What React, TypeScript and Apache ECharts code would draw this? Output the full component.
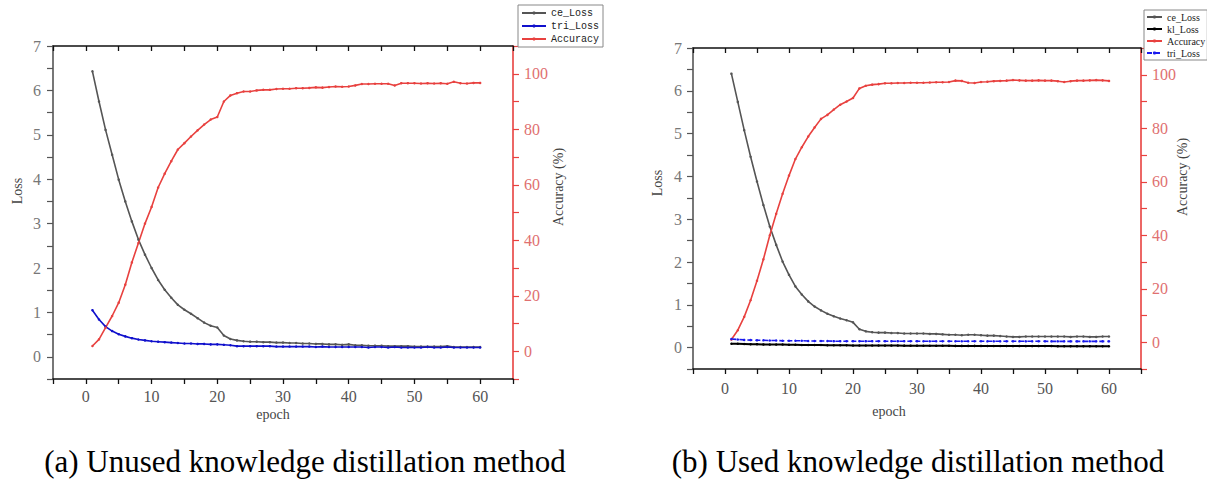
import React, { useEffect, useRef } from "react";
import * as echarts from "echarts";

const epochs = Array.from({ length: 60 }, (_, i) => i + 1);

// Panel (a): without knowledge distillation
const aCeLoss = [
  6.43, 5.75, 5.11, 4.55, 3.99, 3.5, 3.05, 2.64, 2.3, 2.0,
  1.73, 1.51, 1.33, 1.17, 1.06, 0.97, 0.87, 0.77, 0.7, 0.66,
  0.48, 0.4, 0.37, 0.35, 0.34, 0.34, 0.33, 0.33, 0.32, 0.32,
  0.31, 0.31, 0.3, 0.3, 0.29, 0.29, 0.28, 0.28, 0.27, 0.28,
  0.26, 0.26, 0.25, 0.25, 0.25, 0.24, 0.24, 0.24, 0.24, 0.23,
  0.23, 0.23, 0.23, 0.23, 0.24, 0.22, 0.22, 0.22, 0.22, 0.22,
];
const aTriLoss = [
  1.05, 0.84, 0.68, 0.58, 0.51, 0.46, 0.42, 0.39, 0.37, 0.35,
  0.34, 0.33, 0.32, 0.31, 0.3, 0.3, 0.29, 0.29, 0.28, 0.28,
  0.27, 0.26, 0.24, 0.24, 0.24, 0.24, 0.24, 0.24, 0.23, 0.23,
  0.23, 0.23, 0.23, 0.23, 0.22, 0.23, 0.22, 0.22, 0.22, 0.22,
  0.22, 0.22, 0.21, 0.22, 0.22, 0.21, 0.22, 0.21, 0.21, 0.21,
  0.21, 0.22, 0.21, 0.21, 0.22, 0.21, 0.21, 0.21, 0.21, 0.21,
];
const aAccuracy = [
  1.9, 4.3, 8.5, 12.7, 17.5, 24.0, 32.0, 39.0, 46.0, 52.0,
  59.0, 64.0, 68.5, 72.7, 75.0, 77.4, 79.6, 81.7, 83.5, 84.4,
  90.0, 92.2, 93.0, 93.6, 93.6, 94.0, 94.2, 94.2, 94.5, 94.6,
  94.6, 94.8, 94.8, 94.9, 95.1, 95.0, 95.2, 95.4, 95.3, 95.4,
  95.8, 96.3, 96.3, 96.4, 96.4, 96.4, 95.8, 96.6, 96.6, 96.6,
  96.5, 96.6, 96.5, 96.6, 96.4, 97.1, 96.6, 96.5, 96.7, 96.7,
];

// Panel (b): with knowledge distillation
const bCeLoss = [
  6.4, 5.74, 5.08, 4.46, 3.88, 3.33, 2.83, 2.4, 2.01, 1.7,
  1.43, 1.24, 1.08, 0.96, 0.87, 0.79, 0.73, 0.68, 0.64, 0.59,
  0.43, 0.38, 0.36, 0.35, 0.35, 0.34, 0.34, 0.33, 0.33, 0.33,
  0.33, 0.32, 0.32, 0.31, 0.3, 0.3, 0.29, 0.3, 0.3, 0.29,
  0.28, 0.28, 0.27, 0.26, 0.25, 0.25, 0.26, 0.26, 0.26, 0.26,
  0.26, 0.26, 0.26, 0.25, 0.26, 0.26, 0.25, 0.25, 0.26, 0.26,
];
const bKlLoss = [
  0.09, 0.09, 0.085, 0.08, 0.08, 0.075, 0.07, 0.07, 0.07, 0.065,
  0.065, 0.06, 0.06, 0.06, 0.06, 0.055, 0.055, 0.055, 0.055, 0.05,
  0.05, 0.05, 0.05, 0.05, 0.048, 0.048, 0.047, 0.046, 0.045, 0.045,
  0.044, 0.043, 0.042, 0.042, 0.041, 0.04, 0.04, 0.04, 0.04, 0.039,
  0.038, 0.038, 0.037, 0.037, 0.036, 0.036, 0.036, 0.035, 0.035, 0.035,
  0.035, 0.034, 0.034, 0.034, 0.033, 0.033, 0.033, 0.032, 0.032, 0.032,
];
const bTriLoss = [
  0.2, 0.19, 0.18, 0.175, 0.17, 0.17, 0.165, 0.165, 0.16, 0.16,
  0.16, 0.16, 0.155, 0.155, 0.155, 0.155, 0.15, 0.15, 0.15, 0.15,
  0.15, 0.15, 0.15, 0.15, 0.15, 0.15, 0.15, 0.15, 0.15, 0.15,
  0.148, 0.148, 0.148, 0.148, 0.148, 0.148, 0.148, 0.148, 0.148, 0.148,
  0.147, 0.147, 0.147, 0.147, 0.147, 0.147, 0.147, 0.147, 0.147, 0.147,
  0.146, 0.146, 0.146, 0.146, 0.146, 0.146, 0.146, 0.146, 0.146, 0.146,
];
const bAccuracy = [
  1.0, 4.5, 9.5, 15.7, 23.0, 31.0, 40.0, 48.0, 55.5, 62.3,
  68.5, 72.9, 76.9, 80.3, 83.5, 85.0, 87.0, 88.8, 90.0, 91.3,
  94.9, 95.9, 96.3, 96.5, 96.8, 96.8, 96.9, 96.9, 97.0, 97.0,
  97.0, 97.1, 97.2, 97.2, 97.3, 97.8, 97.7, 97.0, 96.9, 97.3,
  97.4, 97.6, 97.7, 97.8, 98.0, 97.9, 97.8, 97.8, 97.9, 97.8,
  97.8, 97.6, 97.3, 97.6, 97.8, 97.8, 97.9, 98.0, 97.9, 97.7,
];

const xTicks = { min: -5, max: 65, interval: 5 };
const lossTicks = { min: -0.5, max: 7, interval: 0.5 };
const accTicks = { min: -10, max: 110, interval: 10 };

const SERIF = "Liberation Serif";
const MONO = "Liberation Mono";
const RED = "#e8413f";

function pairs(arr: number[]) {
  return epochs.map((e, i) => [e, arr[i]]);
}

function buildAxes(labelMargin: { left: number; right: number; bottom: number }) {
  const xAxis = [
    {
      type: "value",
      position: "bottom",
      ...xTicks,
      axisLine: { show: true, onZero: false, lineStyle: { color: "#111", width: 1.6 } },
      axisTick: { show: true, inside: false, length: 5, lineStyle: { color: "#111", width: 1.3 } },
      axisLabel: {
        formatter: (v: number) => (v % 10 === 0 ? String(v) : ""),
        color: "#555",
        fontSize: 16,
        fontFamily: SERIF,
        margin: labelMargin.bottom,
      },
      splitLine: { show: false },
    },
    {
      type: "value",
      position: "top",
      ...xTicks,
      axisLine: { show: true, onZero: false, lineStyle: { color: "#111", width: 1.6 } },
      axisTick: { show: true, inside: true, length: 5, lineStyle: { color: "#111", width: 1.3 } },
      axisLabel: { show: false },
      splitLine: { show: false },
    },
  ];
  const yAxis = [
    {
      type: "value",
      position: "left",
      ...lossTicks,
      axisLine: { show: true, onZero: false, lineStyle: { color: "#555", width: 1.6 } },
      axisTick: { show: true, inside: false, length: 6, lineStyle: { color: "#555", width: 1.2 } },
      axisLabel: {
        formatter: (v: number) => (Math.abs(v - Math.round(v)) < 1e-6 ? String(Math.round(v)) : ""),
        color: "#777",
        fontSize: 16,
        fontFamily: SERIF,
        margin: labelMargin.left,
      },
      splitLine: { show: false },
    },
    {
      type: "value",
      position: "right",
      ...accTicks,
      axisLine: { show: true, onZero: false, lineStyle: { color: RED, width: 1.6 } },
      axisTick: { show: true, inside: false, length: 6, lineStyle: { color: RED, width: 1.2 } },
      axisLabel: {
        formatter: (v: number) => (Math.round(v) % 20 === 0 ? String(Math.round(v)) : ""),
        color: "#e07070",
        fontSize: 16,
        fontFamily: SERIF,
        margin: labelMargin.right,
      },
      splitLine: { show: false },
    },
  ];
  return { xAxis, yAxis };
}

function lineSeries(name: string, data: number[], color: string, yAxisIndex: number, dashed = false, width = 1.6) {
  return {
    type: "line",
    name,
    xAxisIndex: 0,
    yAxisIndex,
    data: pairs(data),
    showSymbol: true,
    symbol: "circle",
    symbolSize: 2.5,
    itemStyle: { color },
    lineStyle: { color, width, type: dashed ? [5, 3] : "solid" },
    emphasis: { disabled: true },
  };
}

function textEl(text: string, x: number, y: number, opts: any = {}) {
  return {
    type: "text",
    x,
    y,
    rotation: opts.rotation || 0,
    style: {
      text,
      fill: opts.color || "#444",
      fontSize: opts.size || 14,
      fontFamily: opts.family || SERIF,
      textAlign: "center",
      textVerticalAlign: "middle",
    },
  };
}

const optionA = () => {
  const axes = buildAxes({ left: 12, right: 11, bottom: 9 });
  return {
    animation: false,
    backgroundColor: "#fff",
    grid: { left: 53, top: 46, width: 460, height: 333, containLabel: false },
    ...axes,
    legend: {
      orient: "vertical",
      left: 518,
      top: 5,
      padding: [3, 4, 3, 3],
      itemGap: 3,
      itemWidth: 24,
      itemHeight: 4,
      borderColor: "#888",
      borderWidth: 1,
      backgroundColor: "#fff",
      selectedMode: false,
      textStyle: { fontFamily: MONO, fontSize: 10, color: "#222" },
      data: ["ce_Loss", "tri_Loss", "Accuracy"],
    },
    series: [
      lineSeries("ce_Loss", aCeLoss, "#555555", 0),
      lineSeries("tri_Loss", aTriLoss, "#1010cc", 0),
      lineSeries("Accuracy", aAccuracy, RED, 1),
    ],
    graphic: [
      textEl("Loss", 17, 191, { rotation: Math.PI / 2, color: "#444", size: 14 }),
      textEl("epoch", 273, 414, { color: "#444", size: 14 }),
      textEl("Accuracy (%)", 558, 187, { rotation: Math.PI / 2, color: "#444", size: 14 }),
      textEl("(a) Unused knowledge distillation method", 305, 461, { color: "#000", size: 31 }),
    ],
  };
};

const optionB = () => {
  const axes = buildAxes({ left: 11, right: 11, bottom: 11 });
  return {
    animation: false,
    backgroundColor: "#fff",
    grid: { left: 83, top: 48, width: 448, height: 321, containLabel: false },
    ...axes,
    legend: {
      orient: "vertical",
      left: 534,
      top: 10,
      padding: [2, 2, 2, 2],
      itemGap: 2,
      itemWidth: 15,
      itemHeight: 4,
      borderColor: "#888",
      borderWidth: 1,
      backgroundColor: "#fff",
      selectedMode: false,
      textStyle: { fontFamily: SERIF, fontSize: 10, color: "#222" },
      data: ["ce_Loss", "kl_Loss", "Accuracy", "tri_Loss"],
    },
    series: [
      lineSeries("ce_Loss", bCeLoss, "#555555", 0),
      lineSeries("kl_Loss", bKlLoss, "#000000", 0, false, 2),
      lineSeries("Accuracy", bAccuracy, RED, 1),
      lineSeries("tri_Loss", bTriLoss, "#1a1aee", 0, true, 1.6),
    ],
    graphic: [
      textEl("Loss", 47, 183, { rotation: Math.PI / 2, color: "#444", size: 14 }),
      textEl("epoch", 279, 411, { color: "#444", size: 14 }),
      textEl("Accuracy (%)", 572, 177, { rotation: Math.PI / 2, color: "#444", size: 14 }),
      textEl("(b) Used knowledge distillation method", 308, 461, { color: "#000", size: 31 }),
    ],
  };
};

function Panel({ left, width, option }: { left: number; width: number; option: any }) {
  const ref = useRef<HTMLDivElement>(null);
  useEffect(() => {
    if (!ref.current) return;
    const chart = echarts.init(ref.current, undefined, { renderer: "svg" });
    chart.setOption(option);
    return () => chart.dispose();
  }, []);
  return <div ref={ref} style={{ position: "absolute", left, top: 0, width, height: 480 }} />;
}

export default function App() {
  return (
    <div style={{ position: "fixed", left: 0, top: 0, width: 1207, height: 480, background: "#fff", overflow: "hidden" }}>
      <Panel left={0} width={610} option={optionA()} />
      <Panel left={610} width={597} option={optionB()} />
    </div>
  );
}
